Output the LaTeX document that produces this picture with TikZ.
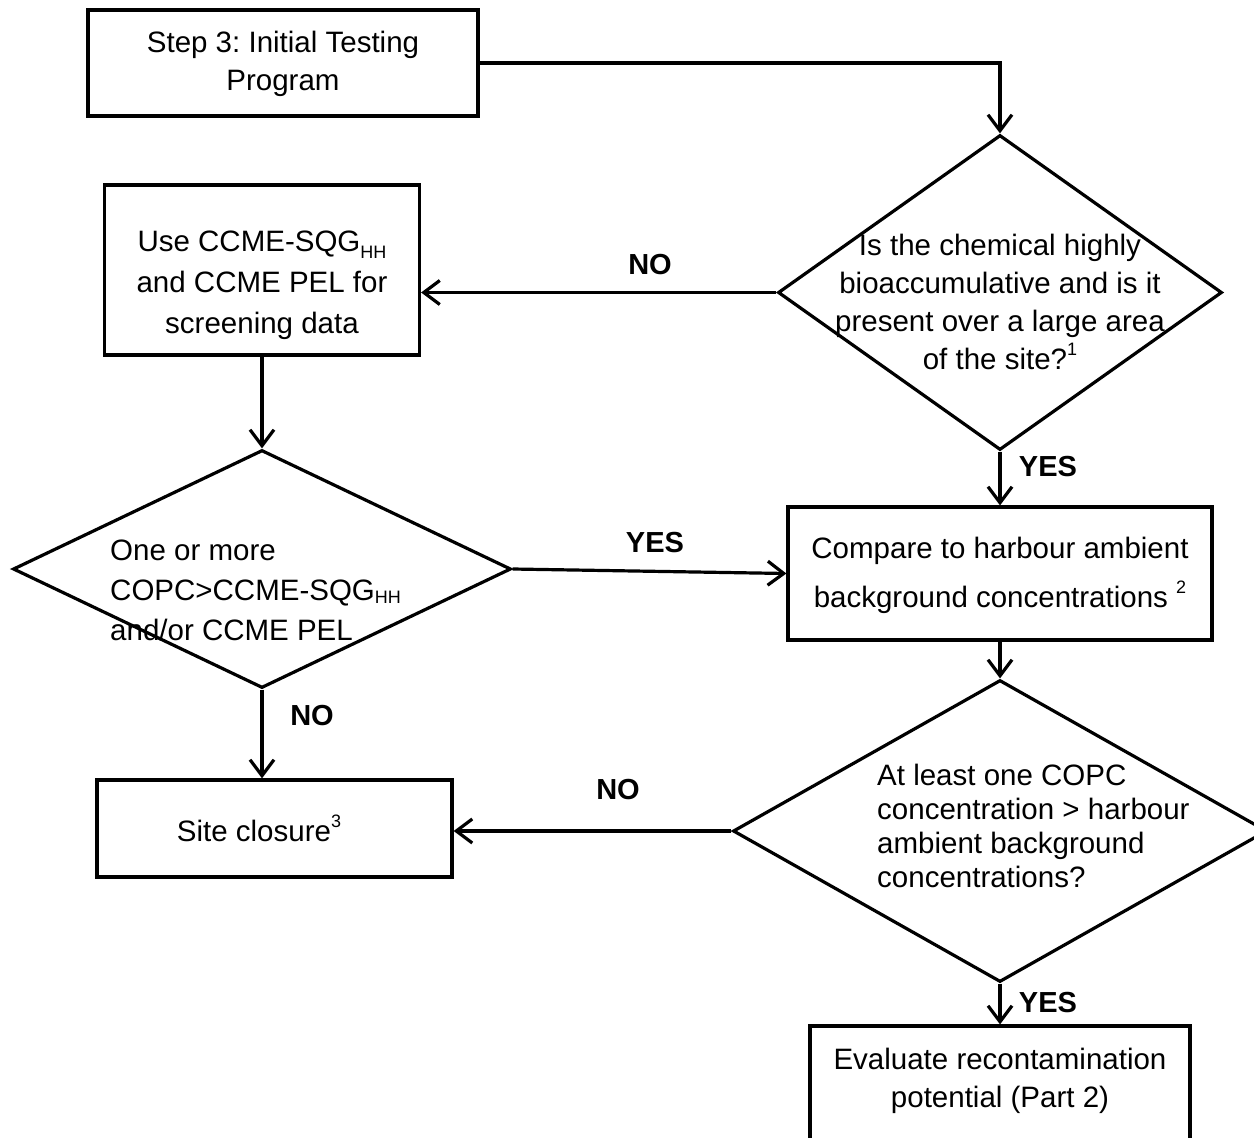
\documentclass[tikz,border=0pt]{standalone}
\usepackage{fontspec}
\setmainfont{Liberation Sans}
\usetikzlibrary{shapes.geometric,arrows.meta}
\frenchspacing
\begin{document}
\begin{tikzpicture}[x=1pt,y=-1pt,
  every node/.style={inner sep=0pt},
  box/.style={draw, line width=3.2pt, rectangle, align=center},
  dia/.style={draw, line width=3.2pt, diamond, inner sep=0pt},
  txt/.style={font=\fontsize{29.5}{38}\selectfont},
  lbl/.style={font=\fontsize{29}{30}\selectfont\bfseries},
  arr/.style={line width=3.2pt, -{Straight Barb[length=16pt,width=24pt,line width=3.2pt]}}
]
\newcommand{\subHH}[1]{\raisebox{#1}{\fontsize{18}{18}\selectfont HH}}
\newcommand{\supn}[1]{\raisebox{14pt}{\fontsize{18}{18}\selectfont #1}}
\useasboundingbox (0,0) rectangle (1254,1138);

% boxes
\node[box, minimum width=390pt, minimum height=106pt] (b1) at (283,63) {};
\node[txt, align=center] (b1t) at (283,64) {Step 3: Initial Testing\\Program};
\node[box, minimum width=315pt, minimum height=170pt] (b2) at (262,270) {};
\node[txt, align=center, font=\fontsize{29.5}{41}\selectfont] (b2t) at (262,285)
  {Use CCME-SQG\subHH{-7pt}\\and CCME PEL for\\screening data};
\node[box, minimum width=424pt, minimum height=133pt] (b3) at (1000,573.5) {};
\node[txt, align=center, font=\fontsize{29.5}{49}\selectfont] (b3t) at (1000,575)
  {Compare to harbour ambient\\background concentrations \supn{2}};
\node[box, minimum width=355pt, minimum height=97pt] (b4) at (274.5,828.5) {};
\node[txt] (b4t) at (259,828) {Site closure\supn{3}};
\node[box, minimum width=380pt, minimum height=170pt] (b5) at (1000,1111) {};
\node[txt, align=center] (b5t) at (1000,1081) {Evaluate recontamination\\potential (Part 2)};

% diamonds
\node[dia, minimum width=444pt, minimum height=315pt] (d1) at (1000,292.5) {};
\node[txt, align=center] (d1t) at (1000,302)
  {Is the chemical highly\\bioaccumulative and is it\\present over a large area\\of the site?\supn{1}};
\node[dia, minimum width=498pt, minimum height=238pt] (d2) at (262,569) {};
\node[txt, align=left, anchor=west, font=\fontsize{29.5}{40}\selectfont] (d2t) at (110,590)
  {One or more\\COPC>CCME-SQG\subHH{-3pt}\\and/or CCME PEL};
\node[dia, minimum width=534pt, minimum height=302pt] (d3) at (1000,831) {};
\node[txt, align=left, anchor=west, font=\fontsize{29.5}{34}\selectfont] (d3t) at (877,826)
  {At least one COPC\\concentration > harbour\\ambient background\\concentrations?};

% connectors
\draw[arr] (b1.east) -| (d1.north);
\draw[arr] (d1.west) -- (d1.west -| b2.east);
\draw[arr] (b2.south) -- (d2.north);
\draw[arr] (d2.east) -- (b3.west);
\draw[arr] (d1.south) -- (b3.north);
\draw[arr] (b3.south) -- (d3.north);
\draw[arr] (d3.west) -- (d3.west -| b4.east);
\draw[arr] (d2.south) -- (d2.south |- b4.north);
\draw[arr] (d3.south) -- (b5.north);

% labels
\node[lbl] (lno1) at (650,265) {NO};
\node[lbl] (lyes1) at (655,543) {YES};
\node[lbl] (lyes2) at (1048,467) {YES};
\node[lbl] (lno2) at (312,716) {NO};
\node[lbl] (lno3) at (618,790) {NO};
\node[lbl] (lyes3) at (1048,1003) {YES};
\end{tikzpicture}
\end{document}
